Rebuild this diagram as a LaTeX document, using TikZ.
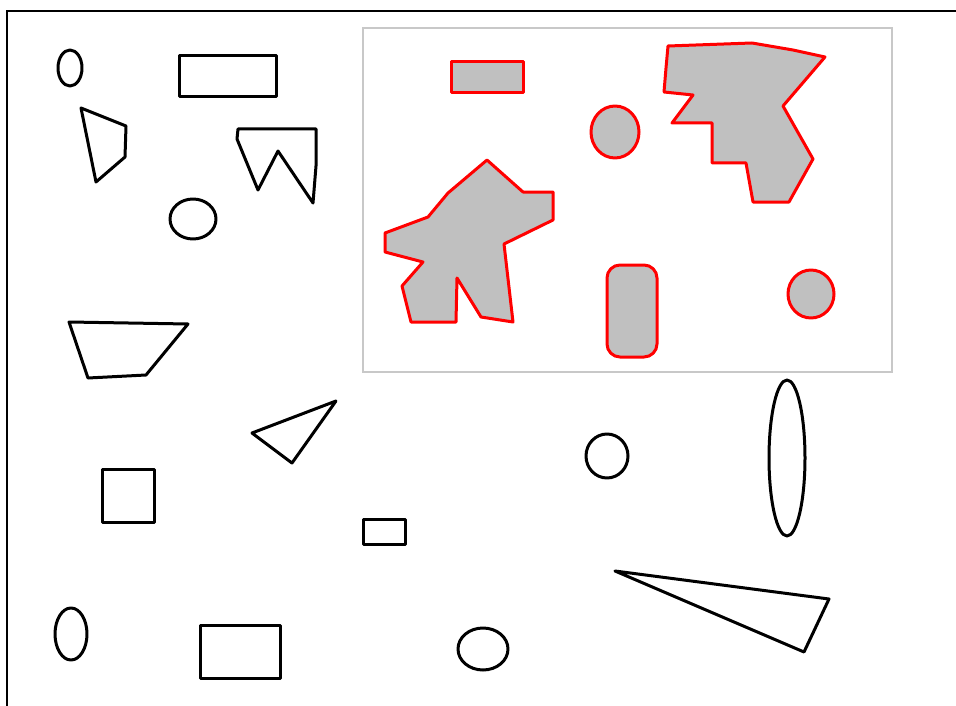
\documentclass[tikz,border=0pt]{standalone}
\definecolor{regionfill}{HTML}{C0C0C0}
\definecolor{regionborder}{HTML}{FF0000}
\definecolor{frameborder}{HTML}{C8C8C8}
\tikzset{
  outline/.style={draw=black, line width=3pt, line join=round},
  region/.style={draw=regionborder, fill=regionfill, line width=3pt, line join=round},
  window/.style={draw=frameborder, line width=1.8pt},
  edge-line/.style={draw=black, line width=2.2pt}
}
\begin{document}
\begin{tikzpicture}[x=1pt, y=-1pt]
\useasboundingbox (0,0) rectangle (956,706);

% page edges
\draw[edge-line] (956,11) -- (7,11) -- (7,706);

% selection window
\draw[window] (363,28) rectangle (892,372);

% regions inside the window
\draw[region] (451,62) rectangle (523,93);
\draw[region] (615,132) ellipse [x radius=24, y radius=26];
\draw[region] (811,294) ellipse [x radius=23, y radius=24];
\draw[region, rounded corners=13pt] (607,265) rectangle (657,357);
\draw[region] (487,160) -- (523,192) -- (553,192) -- (553,220) -- (504,244)
  -- (513,322) -- (481,317) -- (457,278) -- (456,322) -- (411,322)
  -- (402,286) -- (423,262) -- (385,252) -- (385,233) -- (428,217)
  -- (448,193) -- cycle;
\draw[region] (668,46) -- (752,43) -- (793,50) -- (825,57) -- (783,106)
  -- (813,159) -- (789,202) -- (753,202) -- (746,163) -- (712,163)
  -- (712,123) -- (672,123) -- (693,95) -- (664,92) -- (666,68) -- cycle;

% loose shapes
\draw[outline] (70,68) ellipse [x radius=12, y radius=18];
\draw[outline] (179,56) rectangle (276,97);
\draw[outline] (81,108) -- (126,126) -- (125,157) -- (96,182) -- cycle;
\draw[outline] (238,129) -- (316,129) -- (316,166) -- (313,203) -- (278,151)
  -- (258,190) -- (237,139) -- cycle;
\draw[outline] (193,219) ellipse [x radius=23, y radius=20];
\draw[outline] (69,322) -- (188,324) -- (146,375) -- (88,378) -- cycle;
\draw[outline] (252,433) -- (336,401) -- (292,463) -- cycle;
\draw[outline] (102,469) rectangle (154,522);
\draw[outline] (363,519) rectangle (405,544);
\draw[outline] (607,456) ellipse [x radius=21, y radius=22];
\draw[outline] (787,458) ellipse [x radius=18, y radius=78];
\draw[outline] (615,571) -- (829,599) -- (804,652) -- cycle;
\draw[outline] (71,634) ellipse [x radius=16, y radius=26];
\draw[outline] (200,625) rectangle (280,678);
\draw[outline] (483,649) ellipse [x radius=25, y radius=21];

\end{tikzpicture}
\end{document}
